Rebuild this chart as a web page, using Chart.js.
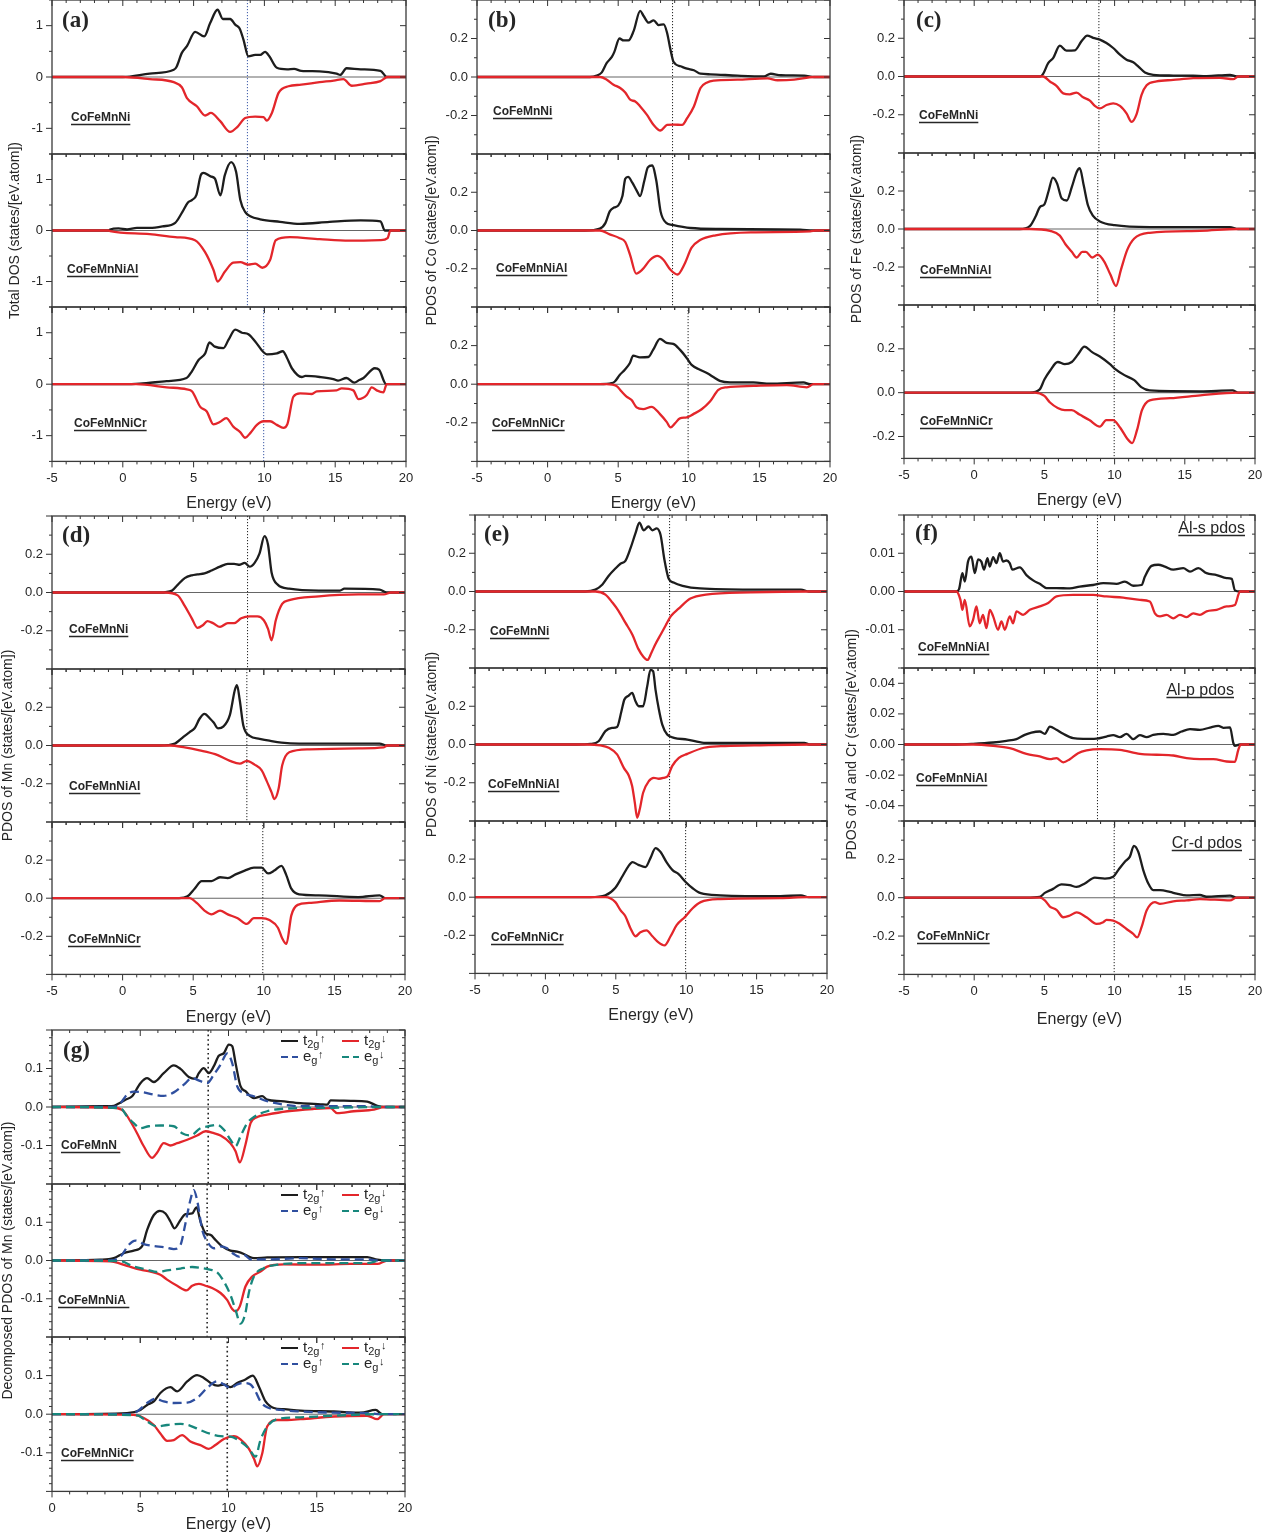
<!DOCTYPE html>
<html>
<head>
<meta charset="utf-8">
<script src="https://cdn.jsdelivr.net/npm/chart.js@4.4.0/dist/chart.umd.min.js"></script>
<style>
  html, body { margin: 0; padding: 0; background: #fff; }
  #fig { position: relative; width: 1262px; height: 1533px; overflow: hidden; background: #fff; }
  #fig canvas { position: absolute; }
</style>
</head>
<body>
<div id="fig"></div>
<script>
// ---------------- tick labels and text ----------------
const energyTicks = [-5, 0, 5, 10, 15, 20];
const energyTicksG = [0, 5, 10, 15, 20];
const tickTotal = [-1, 0, 1];
const tickPdos = [-0.2, 0, 0.2];
const tickAlS = [-0.01, 0, 0.01];
const tickAlP = [-0.04, -0.02, 0, 0.02, 0.04];
const tickDec = [-0.1, 0, 0.1];

const samples = ['CoFeMnNi', 'CoFeMnNiAl', 'CoFeMnNiCr'];
const samplesF = ['CoFeMnNiAl', 'CoFeMnNiAl', 'CoFeMnNiCr'];
const samplesG = ['CoFeMnN ', 'CoFeMnNiA ', 'CoFeMnNiCr'];
const pdosTags = ['Al-s pdos', 'Al-p pdos', 'Cr-d pdos'];
const yTitles = [
  'Total DOS (states/[eV.atom])',
  'PDOS of Co (states/[eV.atom])',
  'PDOS of Fe (states/[eV.atom])',
  'PDOS of Mn (states/[eV.atom])',
  'PDOS of Ni (states/[eV.atom])',
  'PDOS of Al and Cr (states/[eV.atom])',
  'Decomposed PDOS of Mn (states/[eV.atom])'
];
const xTitle = 'Energy (eV)';

// Fermi levels (eV) for the three alloys of each panel
const fermiA = [8.8, 8.8, 9.95];
const fermiB = [8.85, 8.85, 9.95];
const fermiC = [8.88, 8.8, 9.97];
const fermiD = [8.85, 8.8, 9.93];
const fermiE = [8.82, 8.82, 9.96];
const fermiF = [8.78, 8.78, 9.97];
const fermiG = [8.85, 8.79, 9.93];

// ---------------- (a) total DOS ----------------
const aNiUp = [[-5,0],[0,0],[1.9,0.065],[3.6,0.14],[3.8,0.2],[4.17,0.47],[4.53,0.6],[5.11,0.88],[5.75,0.79],[6.17,1.05],[6.69,1.31],[7.07,1.13],[7.58,1.13],[7.94,1.02],[8.24,0.95],[8.52,0.73],[8.87,0.4],[9.35,0.43],[9.7,0.43],[10.05,0.49],[10.36,0.4],[10.88,0.18],[11.6,0.15],[12.1,0.16],[12.6,0.12],[13.9,0.11],[15.1,0.065],[15.35,0.04],[15.8,0.17],[16.8,0.15],[18.2,0.12],[18.65,0],[20,0]];
const aNiDn = [[-5,0],[0,0],[1.9,-0.04],[3.6,-0.1],[4.17,-0.2],[4.53,-0.41],[5.23,-0.57],[5.82,-0.75],[6.22,-0.7],[6.88,-0.86],[7.58,-1.07],[8.1,-0.97],[8.64,-0.8],[9.35,-0.77],[9.94,-0.78],[10.17,-0.85],[10.53,-0.7],[11.0,-0.31],[11.7,-0.18],[12.6,-0.15],[13.9,-0.1],[14.9,-0.07],[15.58,-0.04],[16.17,-0.17],[17.2,-0.13],[18.2,-0.08],[18.7,0],[20,0]];
const aAlUp = [[-5,0],[-1,0],[-0.9,0.02],[-0.3,0.04],[0.3,0.02],[1,0.05],[1.9,0.05],[2.8,0.08],[3.7,0.15],[4.2,0.36],[4.6,0.55],[4.9,0.6],[5.2,0.7],[5.5,1.08],[5.7,1.13],[6.2,1.06],[6.5,1.02],[6.9,0.69],[7.2,1.08],[7.65,1.34],[8.0,1.15],[8.3,0.6],[8.65,0.36],[9.0,0.28],[9.7,0.22],[11.1,0.17],[12.5,0.13],[14.6,0.17],[16.8,0.2],[18.2,0.18],[18.5,0],[20,0]];
const aAlDn = [[-5,0],[-1,0],[-0.9,-0.01],[1.9,-0.07],[3.7,-0.13],[5.1,-0.19],[5.8,-0.42],[6.4,-0.77],[6.7,-1.0],[7.2,-0.81],[7.8,-0.63],[8.3,-0.62],[8.85,-0.67],[9.35,-0.65],[9.85,-0.73],[10.4,-0.58],[10.8,-0.19],[11.8,-0.13],[13.9,-0.17],[16.0,-0.2],[18.2,-0.19],[18.7,-0.15],[18.9,0],[20,0]];
const aCrUp = [[-5,0],[0,0],[1.2,0.01],[3.1,0.06],[4.5,0.12],[4.88,0.25],[5.35,0.47],[5.82,0.6],[6.12,0.81],[6.5,0.73],[7.11,0.7],[7.46,0.86],[7.94,1.06],[8.41,1.0],[8.87,0.97],[9.35,0.83],[9.94,0.62],[10.17,0.58],[10.88,0.6],[11.3,0.64],[11.58,0.52],[11.94,0.31],[12.64,0.14],[12.9,0.16],[13.9,0.14],[14.87,0.1],[15.2,0.07],[15.8,0.12],[16.35,0.03],[16.7,0.08],[17.0,0.12],[17.8,0.31],[18.1,0.28],[18.6,0],[20,0]];
const aCrDn = [[-5,0],[0.94,0],[3.1,-0.06],[4.52,-0.1],[4.9,-0.14],[5.47,-0.44],[5.93,-0.53],[6.4,-0.78],[6.88,-0.73],[7.3,-0.66],[7.82,-0.83],[8.29,-0.93],[8.64,-1.04],[9.0,-0.95],[9.47,-0.79],[9.94,-0.72],[10.4,-0.72],[10.88,-0.79],[11.34,-0.85],[11.63,-0.77],[12.05,-0.24],[12.52,-0.18],[13.35,-0.19],[13.7,-0.14],[15.1,-0.12],[15.46,-0.08],[16.28,-0.12],[16.64,-0.29],[17.23,-0.21],[17.58,-0.06],[17.93,-0.12],[18.4,-0.16],[18.64,0],[20,0]];

// ---------------- (b) Co PDOS ----------------
const bNiUp = [[-5,0],[3.0,0],[3.48,0.007],[3.84,0.024],[4.19,0.073],[4.55,0.104],[4.72,0.129],[5.09,0.2],[5.38,0.19],[5.73,0.19],[6.09,0.238],[6.56,0.343],[6.8,0.317],[7.16,0.282],[7.51,0.294],[7.87,0.27],[8.22,0.273],[8.46,0.23],[8.7,0.143],[8.93,0.077],[9.41,0.056],[9.88,0.043],[10.36,0.035],[10.83,0.017],[11.54,0.014],[13.44,0.007],[15.33,0.003],[15.8,0.017],[16.52,0.009],[18.18,0.007],[18.89,0],[20,0]];
const bNiDn = [[-5,0],[3.72,0],[4.19,-0.014],[4.67,-0.04],[5.14,-0.057],[5.5,-0.08],[5.85,-0.118],[6.21,-0.127],[6.56,-0.153],[7.04,-0.197],[7.51,-0.249],[7.99,-0.278],[8.46,-0.249],[8.93,-0.247],[9.53,-0.249],[9.88,-0.214],[10.36,-0.153],[10.83,-0.057],[11.3,-0.028],[11.78,-0.019],[13.44,-0.014],[15.57,-0.007],[16.28,-0.017],[17.46,-0.014],[18.89,0],[20,0]];
const bAlUp = [[-5,0],[2.65,0],[3.7,0.01],[4.1,0.04],[4.4,0.1],[4.7,0.12],[5.0,0.13],[5.3,0.18],[5.5,0.27],[5.7,0.28],[6.0,0.25],[6.3,0.21],[6.55,0.18],[6.85,0.26],[7.1,0.33],[7.4,0.34],[7.7,0.26],[8.0,0.1],[8.4,0.04],[8.8,0.03],[10.1,0.013],[12.2,0.008],[17.9,0.005],[18.8,0],[20,0]];
const bAlDn = [[-5,0],[3.7,0],[4.4,-0.02],[5.1,-0.04],[5.5,-0.06],[5.85,-0.13],[6.27,-0.225],[6.7,-0.205],[7.27,-0.153],[7.77,-0.133],[8.2,-0.153],[8.7,-0.205],[9.2,-0.23],[9.7,-0.175],[10.2,-0.09],[10.8,-0.05],[11.9,-0.025],[14.4,-0.01],[18.6,-0.005],[19,0],[20,0]];
const bCrUp = [[-5,0],[3.7,0],[4.53,0.005],[4.76,0.014],[5.12,0.049],[5.47,0.075],[5.83,0.11],[6.06,0.148],[6.54,0.139],[7.13,0.141],[7.48,0.179],[7.96,0.235],[8.43,0.214],[8.9,0.209],[9.37,0.179],[9.85,0.136],[10.2,0.1],[10.79,0.075],[11.38,0.054],[11.74,0.037],[12.2,0.017],[12.92,0.009],[14.57,0.009],[15.76,0.003],[18.12,0.009],[18.59,0],[20,0]];
const bCrDn = [[-5,0],[4.17,0],[4.88,-0.009],[5.24,-0.038],[5.59,-0.064],[5.95,-0.082],[6.3,-0.12],[6.77,-0.129],[7.36,-0.117],[7.96,-0.155],[8.43,-0.195],[8.71,-0.224],[9.02,-0.203],[9.37,-0.177],[9.85,-0.172],[10.32,-0.155],[10.91,-0.13],[11.5,-0.09],[12.09,-0.03],[12.68,-0.016],[14.57,-0.009],[16.94,-0.005],[18.36,-0.016],[18.83,0],[20,0]];

// ---------------- (c) Fe PDOS ----------------
const cNiUp = [[-5,0],[4.67,0],[4.91,0.014],[5.27,0.07],[5.62,0.096],[6.1,0.161],[6.57,0.135],[7.17,0.137],[7.64,0.184],[8.05,0.214],[8.47,0.202],[8.95,0.193],[9.42,0.175],[9.9,0.149],[10.38,0.114],[10.85,0.088],[11.33,0.074],[11.68,0.053],[12.16,0.021],[12.75,0.009],[14.18,0.005],[15.6,0.004],[16.55,0.002],[18.22,0.009],[18.69,0],[20,0]];
const cNiDn = [[-5,0],[4.91,0],[5.39,-0.026],[5.86,-0.049],[6.34,-0.088],[6.81,-0.093],[7.29,-0.084],[7.76,-0.109],[8.24,-0.126],[8.59,-0.154],[8.95,-0.167],[9.42,-0.149],[9.9,-0.14],[10.38,-0.154],[10.85,-0.193],[11.21,-0.237],[11.56,-0.198],[11.92,-0.096],[12.28,-0.046],[12.99,-0.026],[14.18,-0.018],[15.6,-0.009],[17.5,-0.007],[18.45,-0.014],[18.81,0],[20,0]];
const cAlUp = [[-5,0],[3.25,0],[3.96,0.015],[4.4,0.07],[4.67,0.115],[5.0,0.13],[5.3,0.2],[5.6,0.27],[5.9,0.24],[6.24,0.16],[6.6,0.15],[6.95,0.22],[7.3,0.3],[7.52,0.32],[7.8,0.23],[8.1,0.125],[8.45,0.07],[8.95,0.04],[10.0,0.02],[12.5,0.01],[16.1,0.01],[18.2,0.01],[18.8,0],[20,0]];
const cAlDn = [[-5,0],[3.96,0],[5.4,-0.01],[6.1,-0.035],[6.5,-0.08],[6.95,-0.12],[7.3,-0.15],[7.7,-0.12],[7.95,-0.12],[8.4,-0.15],[8.8,-0.135],[9.25,-0.17],[9.7,-0.24],[10.1,-0.3],[10.45,-0.215],[10.9,-0.11],[11.4,-0.05],[12.5,-0.02],[16.1,-0.01],[18.8,0],[20,0]];
const cCrUp = [[-5,0],[3.96,0],[4.67,0.015],[5.0,0.06],[5.4,0.1],[5.95,0.14],[6.45,0.13],[6.95,0.14],[7.4,0.175],[7.85,0.21],[8.4,0.185],[8.95,0.165],[9.67,0.13],[10.0,0.11],[10.7,0.08],[11.4,0.057],[11.9,0.025],[12.5,0.01],[16.1,0.006],[18.4,0.01],[18.8,0],[20,0]];
const cCrDn = [[-5,0],[4.3,0],[5.0,-0.015],[5.4,-0.045],[5.95,-0.07],[6.45,-0.08],[6.95,-0.08],[7.5,-0.1],[8.2,-0.125],[8.95,-0.155],[9.4,-0.125],[9.9,-0.125],[10.4,-0.16],[10.9,-0.21],[11.25,-0.23],[11.6,-0.17],[11.95,-0.08],[12.5,-0.035],[13.95,-0.025],[16.1,-0.012],[18.8,0],[20,0]];

// ---------------- (d) Mn PDOS ----------------
const dNiUp = [[-5,0],[2.65,0],[3.5,0.01],[3.9,0.04],[4.4,0.075],[4.9,0.09],[5.3,0.095],[5.8,0.1],[6.3,0.115],[6.9,0.135],[7.45,0.15],[7.9,0.15],[8.3,0.145],[8.65,0.155],[9.0,0.135],[9.35,0.155],[9.7,0.205],[10.05,0.295],[10.3,0.25],[10.55,0.105],[11.0,0.04],[11.8,0.02],[13.9,0.01],[15.4,0.01],[15.7,0.02],[18.2,0.015],[18.7,0],[20,0]];
const dNiDn = [[-5,0],[3.0,0],[3.9,-0.015],[4.4,-0.07],[4.9,-0.135],[5.3,-0.185],[5.7,-0.17],[6.0,-0.15],[6.4,-0.16],[6.9,-0.18],[7.45,-0.16],[7.9,-0.16],[8.4,-0.135],[9.0,-0.125],[9.55,-0.125],[10.0,-0.145],[10.3,-0.19],[10.55,-0.25],[10.85,-0.145],[11.3,-0.06],[11.8,-0.04],[13.9,-0.02],[16.7,-0.01],[18.5,-0.01],[19.0,0],[20,0]];
const dAlUp = [[-5,0],[2.65,0],[3.7,0.01],[4.0,0.026],[4.4,0.05],[4.75,0.07],[5.1,0.09],[5.45,0.14],[5.8,0.165],[6.2,0.14],[6.45,0.12],[6.75,0.09],[7.15,0.1],[7.6,0.16],[7.95,0.29],[8.1,0.315],[8.3,0.235],[8.55,0.105],[9.0,0.05],[9.7,0.035],[10.4,0.025],[11.25,0.015],[12.5,0.01],[18.2,0.01],[18.7,0],[20,0]];
const dAlDn = [[-5,0],[3.35,0],[4.4,-0.01],[5.45,-0.025],[6.55,-0.045],[7.6,-0.08],[8.3,-0.095],[8.8,-0.08],[9.35,-0.1],[9.85,-0.13],[10.2,-0.185],[10.55,-0.245],[10.75,-0.28],[11.05,-0.225],[11.3,-0.105],[11.8,-0.035],[13.25,-0.02],[16.7,-0.015],[18.5,-0.01],[18.75,0],[20,0]];
const dCrUp = [[-5,0],[4.0,0],[4.6,0.01],[5.1,0.05],[5.6,0.09],[6.3,0.09],[6.9,0.11],[7.45,0.105],[8.0,0.125],[8.65,0.145],[9.3,0.16],[9.85,0.16],[10.3,0.13],[10.75,0.145],[11.25,0.17],[11.6,0.12],[11.95,0.05],[12.5,0.02],[13.9,0.015],[16.7,0.006],[18.2,0.015],[18.6,0],[20,0]];
const dCrDn = [[-5,0],[4.75,0],[5.25,-0.025],[5.8,-0.065],[6.3,-0.085],[6.9,-0.065],[7.45,-0.085],[8.15,-0.105],[8.8,-0.135],[9.3,-0.105],[9.85,-0.105],[10.4,-0.115],[11.0,-0.155],[11.3,-0.21],[11.6,-0.24],[11.95,-0.09],[12.4,-0.035],[13.2,-0.025],[15.35,-0.012],[18.2,-0.015],[18.6,0],[20,0]];

// ---------------- (e) Ni PDOS ----------------
const eNiUp = [[-5,0],[2.83,0],[3.55,0.01],[4.05,0.037],[4.47,0.08],[4.97,0.12],[5.33,0.145],[5.68,0.16],[6.04,0.225],[6.4,0.305],[6.68,0.36],[6.97,0.32],[7.32,0.34],[7.6,0.32],[7.9,0.33],[8.18,0.295],[8.46,0.163],[8.75,0.068],[9.1,0.047],[9.74,0.03],[11.0,0.016],[14.6,0.01],[18.15,0.01],[18.7,0],[20,0]];
const eNiDn = [[-5,0],[3.55,0],[4.26,-0.016],[4.76,-0.058],[5.18,-0.1],[5.68,-0.163],[6.18,-0.226],[6.6,-0.3],[6.97,-0.342],[7.25,-0.358],[7.53,-0.32],[7.82,-0.274],[8.18,-0.226],[8.53,-0.179],[8.9,-0.13],[9.46,-0.09],[10.3,-0.037],[11.4,-0.016],[14.6,-0.005],[18.7,0],[20,0]];
const eAlUp = [[-5,0],[2.24,0],[3.19,0.003],[3.78,0.017],[4.26,0.07],[4.73,0.087],[5.09,0.092],[5.4,0.174],[5.61,0.235],[5.92,0.256],[6.16,0.27],[6.4,0.226],[6.63,0.2],[6.94,0.2],[7.23,0.304],[7.46,0.39],[7.65,0.383],[7.82,0.287],[8.06,0.183],[8.3,0.104],[8.65,0.052],[9.13,0.035],[10.08,0.026],[11.26,0.009],[18.39,0.009],[18.74,0],[20,0]];
const eAlDn = [[-5,0],[2.95,0],[3.9,-0.005],[4.5,-0.017],[5.09,-0.052],[5.57,-0.122],[5.92,-0.162],[6.16,-0.217],[6.35,-0.304],[6.52,-0.383],[6.7,-0.339],[6.94,-0.252],[7.35,-0.191],[7.7,-0.174],[8.06,-0.179],[8.41,-0.174],[8.7,-0.165],[9.0,-0.113],[9.48,-0.07],[10.08,-0.049],[11.26,-0.017],[12.45,-0.009],[14.82,-0.005],[18.86,0],[20,0]];
const eCrUp = [[-5,0],[3.2,0],[4.26,0.01],[4.97,0.05],[5.47,0.11],[5.9,0.163],[6.18,0.184],[6.6,0.17],[7.1,0.158],[7.46,0.205],[7.82,0.258],[8.18,0.237],[8.6,0.184],[9.03,0.142],[9.46,0.121],[9.96,0.08],[10.46,0.047],[11.03,0.021],[12.45,0.01],[16.7,0.005],[18.15,0.01],[18.7,0],[20,0]];
const eCrDn = [[-5,0],[4.26,0],[4.97,-0.026],[5.33,-0.068],[5.68,-0.1],[6.04,-0.163],[6.4,-0.205],[6.75,-0.184],[7.18,-0.174],[7.6,-0.205],[8.03,-0.237],[8.46,-0.253],[8.89,-0.205],[9.32,-0.147],[9.89,-0.105],[10.46,-0.058],[11.03,-0.026],[12.45,-0.01],[16.7,-0.005],[18.7,0],[20,0]];

// ---------------- (f) Al s, Al p and Cr d PDOS ----------------
const fAlSUp = [[-5,0],[-1.27,0],[-1.08,0.0006],[-0.84,0.0048],[-0.67,0.0026],[-0.44,0.0078],[-0.2,0.0091],[0.04,0.0048],[0.28,0.0084],[0.51,0.0078],[0.7,0.0057],[0.94,0.0087],[1.11,0.0065],[1.35,0.009],[1.58,0.0074],[1.82,0.01],[2.06,0.0078],[2.3,0.0081],[2.53,0.0074],[2.72,0.0057],[3.25,0.0063],[3.72,0.0043],[4.2,0.0029],[4.67,0.002],[5.15,0.0009],[5.86,0.0009],[6.81,0.0008],[7.52,0.0013],[8.47,0.0017],[9.19,0.0022],[10.14,0.002],[10.73,0.0026],[11.33,0.0015],[11.92,0.0017],[12.16,0.0039],[12.63,0.0067],[13.11,0.007],[13.58,0.0065],[14.18,0.0057],[14.89,0.0061],[15.37,0.0052],[15.96,0.0061],[16.55,0.0048],[17.27,0.0043],[17.98,0.0035],[18.34,0.0033],[18.57,0.0003],[18.93,0],[20,0]];
const fAlSDn = [[-5,0],[-1.27,0],[-0.98,-0.0022],[-0.84,-0.0048],[-0.67,-0.0022],[-0.32,-0.0091],[-0.08,-0.0074],[0.16,-0.0039],[0.39,-0.0083],[0.63,-0.0061],[0.87,-0.0096],[1.11,-0.0048],[1.35,-0.0065],[1.7,-0.01],[1.94,-0.0078],[2.18,-0.01],[2.53,-0.0065],[2.77,-0.0083],[3.01,-0.0052],[3.48,-0.0061],[3.96,-0.0048],[4.67,-0.0039],[5.27,-0.003],[5.86,-0.0013],[7.05,-0.0009],[8.47,-0.0009],[9.42,-0.0013],[10.61,-0.0016],[11.8,-0.0022],[12.51,-0.0026],[12.87,-0.0057],[13.23,-0.0065],[13.7,-0.0061],[14.18,-0.007],[14.65,-0.0061],[15.13,-0.0067],[15.6,-0.0057],[16.08,-0.0061],[16.55,-0.0052],[17.27,-0.0048],[17.98,-0.0039],[18.57,-0.0035],[18.93,0],[20,0]];
const fAlPUp = [[-5,0],[-1.27,0],[-0.08,0.0004],[1.35,0.0013],[2.3,0.0024],[3.01,0.0035],[3.6,0.0063],[4.08,0.0078],[4.67,0.0085],[5.03,0.007],[5.39,0.0117],[5.86,0.0096],[6.34,0.007],[7.05,0.0041],[7.76,0.0037],[8.71,0.0039],[9.42,0.0052],[9.9,0.0061],[10.38,0.0048],[10.85,0.007],[11.33,0.0035],[11.8,0.0061],[12.28,0.0048],[12.75,0.0063],[13.47,0.007],[14.18,0.0063],[14.77,0.0085],[15.37,0.01],[16.08,0.0096],[16.79,0.0111],[17.39,0.0122],[17.74,0.0109],[18.22,0.0111],[18.46,0.0009],[18.57,-0.0009],[18.93,0],[20,0]];
const fAlPDn = [[-5,0],[-0.08,0],[1.35,-0.0009],[2.53,-0.0024],[3.72,-0.0061],[4.67,-0.0078],[5.39,-0.0096],[5.86,-0.0089],[6.34,-0.0117],[6.81,-0.0096],[7.4,-0.0057],[8.0,-0.0039],[8.95,-0.003],[10.38,-0.0035],[11.8,-0.0061],[12.99,-0.0067],[14.18,-0.0072],[15.13,-0.0089],[16.08,-0.0096],[17.03,-0.0096],[17.98,-0.0111],[18.57,-0.0113],[18.81,-0.0035],[19.0,0],[20,0]];
const fCrDUp = [[-5,0],[3.72,0],[4.67,0.004],[5.03,0.025],[5.62,0.046],[6.22,0.07],[6.81,0.065],[7.29,0.056],[7.88,0.074],[8.59,0.105],[9.31,0.1],[9.9,0.109],[10.26,0.144],[10.73,0.188],[11.09,0.214],[11.37,0.27],[11.68,0.24],[12.04,0.144],[12.4,0.074],[12.75,0.039],[13.23,0.039],[13.94,0.03],[14.42,0.021],[15.13,0.012],[16.08,0.014],[16.55,0.005],[18.22,0.011],[18.69,0],[20,0]];
const fCrDDn = [[-5,0],[4.67,0],[5.03,-0.014],[5.39,-0.046],[5.86,-0.063],[6.34,-0.102],[6.81,-0.093],[7.29,-0.077],[8.0,-0.102],[8.71,-0.137],[9.19,-0.128],[9.42,-0.116],[9.9,-0.119],[10.38,-0.137],[10.85,-0.163],[11.33,-0.189],[11.61,-0.207],[11.92,-0.154],[12.28,-0.067],[12.87,-0.023],[13.23,-0.032],[14.18,-0.019],[15.13,-0.014],[16.08,-0.007],[18.22,-0.014],[18.69,0],[20,0]];

// ---------------- (g) Mn t2g / eg decomposition ----------------
const gNiT2gUp = [[0,0],[2.74,0.002],[3.5,0.003],[3.78,0.009],[4.16,0.019],[4.54,0.028],[5.01,0.062],[5.39,0.075],[5.77,0.065],[6.33,0.088],[6.9,0.108],[7.28,0.099],[7.75,0.078],[8.13,0.073],[8.32,0.088],[8.6,0.101],[8.88,0.088],[9.17,0.106],[9.45,0.133],[9.74,0.14],[10.02,0.162],[10.21,0.158],[10.4,0.114],[10.68,0.054],[10.96,0.041],[11.44,0.023],[11.91,0.028],[12.19,0.019],[12.95,0.015],[14.08,0.01],[15.22,0.007],[15.6,0.006],[15.78,0.017],[16.92,0.016],[17.86,0.014],[18.43,0.003],[18.81,0],[20,0]];
const gNiEgUp = [[0,0],[3.5,0],[3.88,0.01],[4.25,0.032],[4.63,0.04],[5.2,0.038],[5.77,0.032],[6.33,0.029],[6.9,0.038],[7.47,0.058],[7.94,0.075],[8.41,0.067],[8.79,0.062],[9.17,0.084],[9.55,0.11],[9.92,0.139],[10.21,0.114],[10.49,0.054],[10.87,0.036],[11.44,0.028],[12.19,0.015],[13.14,0.006],[14.08,0.002],[17.86,0.002],[18.62,0],[20,0]];
const gNiT2gDn = [[0,0],[3.5,-0.002],[4.06,-0.011],[4.44,-0.037],[4.82,-0.068],[5.2,-0.102],[5.67,-0.132],[5.95,-0.119],[6.33,-0.094],[6.71,-0.1],[7.09,-0.094],[7.66,-0.085],[8.22,-0.074],[8.7,-0.063],[9.17,-0.068],[9.55,-0.074],[10.11,-0.094],[10.4,-0.115],[10.64,-0.144],[10.96,-0.098],[11.25,-0.042],[11.63,-0.026],[12.19,-0.02],[13.33,-0.011],[14.84,-0.005],[15.78,-0.003],[16.16,-0.016],[17.1,-0.011],[18.24,-0.007],[18.81,0],[20,0]];
const gNiEgDn = [[0,0],[3.88,-0.003],[4.25,-0.024],[4.63,-0.042],[5.01,-0.055],[5.48,-0.05],[6.14,-0.048],[6.9,-0.05],[7.37,-0.068],[7.84,-0.074],[8.41,-0.055],[8.88,-0.05],[9.36,-0.046],[9.74,-0.059],[10.11,-0.085],[10.4,-0.102],[10.68,-0.076],[11.06,-0.042],[11.44,-0.026],[12.19,-0.011],[13.33,-0.004],[15.97,-0.002],[18.81,0],[20,0]];
const gAlT2gUp = [[0,0],[2.74,0.002],[3.5,0.006],[4.06,0.019],[4.63,0.026],[5.1,0.037],[5.39,0.08],[5.77,0.119],[6.11,0.13],[6.43,0.123],[6.71,0.102],[6.94,0.084],[7.28,0.106],[7.56,0.121],[7.94,0.123],[8.19,0.139],[8.41,0.102],[8.7,0.071],[8.98,0.067],[9.26,0.054],[9.64,0.037],[10.11,0.026],[10.49,0.023],[10.87,0.017],[11.15,0.01],[11.44,0.006],[12.19,0.008],[14.08,0.009],[17.86,0.009],[18.43,0.002],[18.81,0],[20,0]];
const gAlEgUp = [[0,0],[3.3,0],[3.88,0.01],[4.35,0.041],[4.73,0.052],[5.2,0.043],[5.77,0.038],[6.33,0.035],[6.9,0.03],[7.28,0.041],[7.56,0.097],[7.84,0.158],[8.03,0.184],[8.22,0.158],[8.51,0.08],[8.79,0.05],[9.17,0.032],[9.55,0.037],[9.92,0.032],[10.3,0.017],[10.59,0.01],[10.87,0.015],[11.25,0.003],[12.19,0.003],[14.08,0.006],[15.97,0.003],[17.86,0.003],[18.43,0],[20,0]];
const gAlT2gDn = [[0,0],[3.3,-0.002],[4.25,-0.014],[5.01,-0.024],[5.58,-0.029],[6.14,-0.037],[6.52,-0.05],[7.09,-0.066],[7.62,-0.078],[7.94,-0.066],[8.32,-0.061],[8.7,-0.066],[9.07,-0.072],[9.55,-0.085],[9.92,-0.103],[10.21,-0.127],[10.4,-0.133],[10.64,-0.12],[10.96,-0.068],[11.34,-0.042],[11.81,-0.029],[12.19,-0.016],[13.14,-0.01],[15.03,-0.011],[16.92,-0.009],[18.43,-0.009],[19.0,0],[20,0]];
const gAlEgDn = [[0,0],[3.88,-0.002],[4.63,-0.016],[5.39,-0.024],[5.95,-0.03],[6.52,-0.026],[7.28,-0.021],[7.94,-0.017],[8.41,-0.019],[8.88,-0.023],[9.36,-0.031],[9.74,-0.055],[10.11,-0.09],[10.4,-0.129],[10.68,-0.165],[10.96,-0.137],[11.15,-0.085],[11.44,-0.042],[12.0,-0.02],[12.76,-0.011],[14.08,-0.007],[17.86,-0.007],[18.62,0],[20,0]];
const gCrT2gUp = [[0,0],[4.25,0.003],[5.01,0.011],[5.39,0.024],[5.77,0.033],[6.14,0.055],[6.71,0.07],[7.09,0.059],[7.66,0.085],[8.22,0.101],[8.6,0.094],[8.98,0.081],[9.36,0.074],[9.74,0.077],[10.11,0.07],[10.49,0.081],[10.96,0.09],[11.38,0.1],[11.72,0.072],[12.1,0.033],[12.57,0.016],[13.14,0.013],[14.08,0.009],[15.97,0.007],[17.49,0.004],[18.34,0.011],[18.71,0],[20,0]];
const gCrEgUp = [[0,0],[4.44,0],[4.82,0.007],[5.39,0.029],[5.86,0.04],[6.33,0.033],[6.9,0.029],[7.66,0.03],[8.22,0.042],[8.79,0.068],[9.36,0.085],[9.74,0.077],[10.11,0.068],[10.49,0.077],[10.87,0.081],[11.25,0.077],[11.53,0.059],[11.81,0.033],[12.19,0.018],[12.95,0.011],[14.08,0.007],[15.97,0.004],[17.86,0.003],[18.62,0],[20,0]];
const gCrT2gDn = [[0,0],[4.63,-0.002],[5.2,-0.01],[5.77,-0.028],[6.14,-0.05],[6.52,-0.069],[6.9,-0.067],[7.37,-0.054],[7.84,-0.071],[8.41,-0.08],[8.88,-0.09],[9.26,-0.08],[9.74,-0.064],[10.3,-0.057],[10.68,-0.065],[11.15,-0.089],[11.44,-0.115],[11.63,-0.135],[11.91,-0.102],[12.19,-0.032],[12.76,-0.015],[13.33,-0.015],[14.08,-0.013],[15.97,-0.006],[17.86,-0.004],[18.43,-0.013],[18.81,0],[20,0]];
const gCrEgDn = [[0,0],[4.82,-0.003],[5.39,-0.019],[5.95,-0.032],[6.52,-0.028],[7.28,-0.025],[7.84,-0.03],[8.41,-0.041],[8.98,-0.051],[9.55,-0.057],[10.11,-0.058],[10.68,-0.071],[11.15,-0.089],[11.53,-0.11],[11.81,-0.067],[12.19,-0.032],[12.76,-0.013],[14.08,-0.008],[15.97,-0.004],[18.62,0],[20,0]];

// ---------------- styling ----------------
Chart.defaults.font.family = "'Liberation Sans', Arial, sans-serif";
const INK = '#262626';
const COL = { up: '#1d1d1d', dn: '#e3262b', egUp: '#2f4f9f', egDn: '#17877c' };
const SANS = "'Liberation Sans', Arial, sans-serif";
const SERIF = "'Liberation Serif', 'Times New Roman', serif";

// y-axis set-ups
const yTotal = { min: -1.5, max: 1.5, labels: tickTotal, major: 1, minor: 0.5, dec: 0 };
const yPdos = { min: -0.4, max: 0.4, labels: tickPdos, major: 0.2, minor: 0.1, dec: 1 };
const yPdosLow = { min: -0.3, max: 0.4, labels: tickPdos, major: 0.2, minor: 0.1, dec: 1 };
const yAlS = { min: -0.02, max: 0.02, labels: tickAlS, major: 0.01, minor: 0.005, dec: 2 };
const yAlP = { min: -0.05, max: 0.05, labels: tickAlP, major: 0.02, minor: 0.01, dec: 2 };
const yDec = { min: -0.2, max: 0.2, labels: tickDec, major: 0.1, minor: 0.02, dec: 1 };

function spin(up, dn) {
  return [
    { label: 'spin up', data: up, color: COL.up, order: 2 },
    { label: 'spin down', data: dn, color: COL.dn, order: 1 }
  ];
}
function orbitals(t2gUp, egUp, t2gDn, egDn) {
  return [
    { label: 't2g up', data: t2gUp, color: COL.up, order: 4 },
    { label: 't2g down', data: t2gDn, color: COL.dn, order: 3 },
    { label: 'eg up', data: egUp, color: COL.egUp, order: 2, dash: [9, 5] },
    { label: 'eg down', data: egDn, color: COL.egDn, order: 1, dash: [9, 5] }
  ];
}

// legend of panel (g): base letter, subscript, spin arrow
const legendItems = [
  { base: 't', sub: '2g', arrow: '\u2191', color: COL.up, dash: [], col: 0, row: 0 },
  { base: 't', sub: '2g', arrow: '\u2193', color: COL.dn, dash: [], col: 1, row: 0 },
  { base: 'e', sub: 'g', arrow: '\u2191', color: COL.egUp, dash: [7, 4], col: 0, row: 1 },
  { base: 'e', sub: 'g', arrow: '\u2193', color: COL.egDn, dash: [7, 4], col: 1, row: 1 }
];

const dotted = { color: '#222', dash: [1.2, 1.8], width: 1 };
const dottedBlue = { color: '#3b58a6', dash: [1.2, 1.8], width: 1 };
const dottedG = { color: '#222', dash: [1.6, 3], width: 1.6 };

const panels = [
  { letter: '(a)', left: 52, right: 406, edges: [0, 154, 307, 461], xMin: -5, xMax: 20, xTicks: energyTicks,
    yTitle: yTitles[0], yTitleX: 15, xTitleGap: 42, fermiStyle: dottedBlue, letterPos: [10, 21],
    subplots: [
      { name: samples[0], series: spin(aNiUp, aNiDn), fermi: fermiA[0], y: yTotal, namePos: [19, 118] },
      { name: samples[1], series: spin(aAlUp, aAlDn), fermi: fermiA[1], y: yTotal, namePos: [15, 116] },
      { name: samples[2], series: spin(aCrUp, aCrDn), fermi: fermiA[2], y: yTotal, namePos: [22, 117] }
    ] },
  { letter: '(b)', left: 477, right: 830, edges: [0, 154, 307, 461], xMin: -5, xMax: 20, xTicks: energyTicks,
    yTitle: yTitles[1], yTitleX: 432, xTitleGap: 42, fermiStyle: dotted, letterPos: [11, 21],
    subplots: [
      { name: samples[0], series: spin(bNiUp, bNiDn), fermi: fermiB[0], y: yPdos, namePos: [16, 112] },
      { name: samples[1], series: spin(bAlUp, bAlDn), fermi: fermiB[1], y: yPdos, namePos: [19, 115] },
      { name: samples[2], series: spin(bCrUp, bCrDn), fermi: fermiB[2], y: yPdos, namePos: [15, 117] }
    ] },
  { letter: '(c)', left: 904, right: 1255, edges: [0, 153, 305, 458], xMin: -5, xMax: 20, xTicks: energyTicks,
    yTitle: yTitles[2], yTitleX: 857, xTitleGap: 42, fermiStyle: dotted, letterPos: [12, 21],
    subplots: [
      { name: samples[0], series: spin(cNiUp, cNiDn), fermi: fermiC[0], y: yPdos, namePos: [15, 116] },
      { name: samples[1], series: spin(cAlUp, cAlDn), fermi: fermiC[1], y: yPdos, namePos: [16, 118] },
      { name: samples[2], series: spin(cCrUp, cCrDn), fermi: fermiC[2], y: yPdosLow, namePos: [16, 117] }
    ] },
  { letter: '(d)', left: 52, right: 405, edges: [516, 669, 822, 974], xMin: -5, xMax: 20, xTicks: energyTicks,
    yTitle: yTitles[3], yTitleX: 8, xTitleGap: 43, fermiStyle: dotted, letterPos: [10, 20],
    subplots: [
      { name: samples[0], series: spin(dNiUp, dNiDn), fermi: fermiD[0], y: yPdos, namePos: [17, 114] },
      { name: samples[1], series: spin(dAlUp, dAlDn), fermi: fermiD[1], y: yPdos, namePos: [17, 118] },
      { name: samples[2], series: spin(dCrUp, dCrDn), fermi: fermiD[2], y: yPdos, namePos: [16, 118] }
    ] },
  { letter: '(e)', left: 475, right: 827, edges: [515, 668, 821, 973], xMin: -5, xMax: 20, xTicks: energyTicks,
    yTitle: yTitles[4], yTitleX: 432, xTitleGap: 42, fermiStyle: dotted, letterPos: [9, 20],
    subplots: [
      { name: samples[0], series: spin(eNiUp, eNiDn), fermi: fermiE[0], y: yPdos, namePos: [15, 117] },
      { name: samples[1], series: spin(eAlUp, eAlDn), fermi: fermiE[1], y: yPdos, namePos: [13, 117] },
      { name: samples[2], series: spin(eCrUp, eCrDn), fermi: fermiE[2], y: yPdos, namePos: [16, 117] }
    ] },
  { letter: '(f)', left: 904, right: 1255, edges: [515, 668, 821, 974], xMin: -5, xMax: 20, xTicks: energyTicks,
    yTitle: yTitles[5], yTitleX: 852, xTitleGap: 45, fermiStyle: dotted, letterPos: [11, 19],
    subplots: [
      { name: samplesF[0], series: spin(fAlSUp, fAlSDn), fermi: fermiF[0], y: yAlS, namePos: [14, 133], tag: pdosTags[0], tagPos: [-10, 14] },
      { name: samplesF[1], series: spin(fAlPUp, fAlPDn), fermi: fermiF[1], y: yAlP, namePos: [12, 111], tag: pdosTags[1], tagPos: [-21, 23] },
      { name: samplesF[2], series: spin(fCrDUp, fCrDDn), fermi: fermiF[2], y: yPdos, namePos: [13, 116], tag: pdosTags[2], tagPos: [-13, 23] }
    ] },
  { letter: '(g)', left: 52, right: 405, edges: [1030, 1184, 1337, 1491], xMin: 0, xMax: 20, xTicks: energyTicksG,
    yTitle: yTitles[6], yTitleX: 8, xTitleGap: 33, fermiStyle: dottedG, letterPos: [11, 21], legend: true,
    subplots: [
      { name: samplesG[0], series: orbitals(gNiT2gUp, gNiEgUp, gNiT2gDn, gNiEgDn), fermi: fermiG[0], y: yDec, namePos: [9, 116] },
      { name: samplesG[1], series: orbitals(gAlT2gUp, gAlEgUp, gAlT2gDn, gAlEgDn), fermi: fermiG[1], y: yDec, namePos: [6, 117] },
      { name: samplesG[2], series: orbitals(gCrT2gUp, gCrEgUp, gCrT2gDn, gCrEgDn), fermi: fermiG[2], y: yDec, namePos: [9, 117] }
    ] }
];

// ---------------- drawing helpers ----------------
const LEFT_M = 62, RIGHT_M = 16, TOP_M = 12, MID_EXTRA = 150;
const TICK_FONT = 13, XTITLE_FONT = 16, YTITLE_FONT = 14;

function seg(ctx, x1, y1, x2, y2) {
  ctx.beginPath(); ctx.moveTo(x1, y1); ctx.lineTo(x2, y2); ctx.stroke();
}
function isMultiple(v, step) {
  const r = v / step;
  return Math.abs(r - Math.round(r)) < 1e-6;
}
function underlinedText(ctx, text, x, y, font, align) {
  ctx.font = font;
  ctx.textAlign = align; ctx.textBaseline = 'middle';
  ctx.fillText(text, x, y);
  const w = ctx.measureText(text).width;
  const x0 = align === 'right' ? x - w : x;
  ctx.lineWidth = 1.3;
  seg(ctx, x0, y + 6.5, x0 + w, y + 6.5);
}
function orbitalLabel(ctx, item, x, y) {
  ctx.textAlign = 'left'; ctx.textBaseline = 'middle'; ctx.fillStyle = INK;
  ctx.font = '15px ' + SANS;
  ctx.fillText(item.base, x, y);
  let w = ctx.measureText(item.base).width;
  ctx.font = '11px ' + SANS;
  ctx.fillText(item.sub, x + w, y + 4);
  w += ctx.measureText(item.sub).width;
  ctx.font = '11px ' + SANS;
  ctx.fillText(item.arrow, x + w + 0.5, y - 2);
}

function decor(panel, sp, idx, canvasLeft) {
  return {
    id: 'decor',
    beforeDatasetsDraw(chart) {
      const { ctx, chartArea: ca, scales: { x, y } } = chart;
      ctx.save();
      // zero line
      const y0 = y.getPixelForValue(0);
      ctx.strokeStyle = '#666'; ctx.lineWidth = 1.1;
      seg(ctx, ca.left, y0, ca.right, y0);
      // Fermi level
      const fs = panel.fermiStyle;
      const xf = x.getPixelForValue(sp.fermi);
      ctx.strokeStyle = fs.color; ctx.lineWidth = fs.width; ctx.setLineDash(fs.dash);
      seg(ctx, xf, ca.top, xf, ca.bottom);
      ctx.restore();
    },
    afterDraw(chart) {
      const { ctx, chartArea: ca, scales: { x, y } } = chart;
      ctx.save();
      ctx.strokeStyle = '#333'; ctx.lineWidth = 1;
      // energy ticks: bottom edge outward, top edge inward
      const nx = Math.round(x.max - x.min);
      for (let i = 0; i <= nx; i++) {
        const v = x.min + i;
        const px = x.getPixelForValue(v);
        const len = isMultiple(v, 5) ? 6 : 3;
        seg(ctx, px, ca.bottom, px, ca.bottom + len);
        seg(ctx, px, ca.top, px, ca.top + len);
      }
      // value ticks: left outward, right inward
      const ys = sp.y;
      const ny = Math.round((ys.max - ys.min) / ys.minor);
      for (let i = 0; i <= ny; i++) {
        const v = ys.min + i * ys.minor;
        const py = y.getPixelForValue(v);
        const len = isMultiple(v, ys.major) ? 6 : 3;
        seg(ctx, ca.left - len, py, ca.left, py);
        seg(ctx, ca.right - len, py, ca.right, py);
      }
      // frame
      ctx.strokeStyle = '#3a3a3a'; ctx.lineWidth = 1.3;
      ctx.strokeRect(ca.left, ca.top, ca.right - ca.left, ca.bottom - ca.top);

      // alloy name
      ctx.fillStyle = INK; ctx.strokeStyle = INK;
      underlinedText(ctx, sp.name, ca.left + sp.namePos[0], ca.top + sp.namePos[1], 'bold 12px ' + SANS, 'left');
      // orbital tag (panel f)
      if (sp.tag) {
        underlinedText(ctx, sp.tag, ca.right + sp.tagPos[0], ca.top + sp.tagPos[1], '16px ' + SANS, 'right');
      }
      // panel letter
      if (idx === 0) {
        ctx.font = 'bold 23px ' + SERIF;
        ctx.textAlign = 'left'; ctx.textBaseline = 'middle';
        ctx.fillText(panel.letter, ca.left + panel.letterPos[0], ca.top + panel.letterPos[1]);
      }
      // shared y title, drawn once on the middle plot
      if (idx === 1) {
        ctx.save();
        ctx.translate(panel.yTitleX - canvasLeft, (ca.top + ca.bottom) / 2);
        ctx.rotate(-Math.PI / 2);
        ctx.font = YTITLE_FONT + 'px ' + SANS;
        ctx.textAlign = 'center'; ctx.textBaseline = 'middle'; ctx.fillStyle = INK;
        ctx.fillText(panel.yTitle, 0, 0);
        ctx.restore();
      }
      // orbital legend (panel g)
      if (panel.legend) {
        const colX = [229, 290], rowY = [11, 27];
        legendItems.forEach(it => {
          const lx = ca.left + colX[it.col], ly = ca.top + rowY[it.row];
          ctx.strokeStyle = it.color; ctx.lineWidth = 2; ctx.setLineDash(it.dash);
          seg(ctx, lx, ly, lx + 17, ly);
          ctx.setLineDash([]);
          orbitalLabel(ctx, it, lx + 22, ly);
        });
      }
      ctx.restore();
    }
  };
}

// ---------------- build the 21 sub-plots ----------------
const fig = document.getElementById('fig');

function zeroPadding(s) {
  s.paddingLeft = 0; s.paddingRight = 0; s.paddingTop = 0; s.paddingBottom = 0;
}

function build(panel, sp, idx) {
  const last = idx === panel.subplots.length - 1;
  const mid = idx === 1;
  const top = panel.edges[idx], bottom = panel.edges[idx + 1];
  const plotW = panel.right - panel.left, plotH = bottom - top;
  const xAxisH = last ? panel.xTitleGap + XTITLE_FONT * 0.6 : 0;
  const padTop = TOP_M + (mid ? MID_EXTRA : 0);
  const padBottom = last ? 4 : TOP_M + (mid ? MID_EXTRA : 0);
  const W = LEFT_M + plotW + RIGHT_M;
  const H = Math.ceil(padTop + plotH + xAxisH + padBottom);
  const canvasLeft = panel.left - LEFT_M;
  const cv = document.createElement('canvas');
  cv.width = W; cv.height = H;
  cv.style.left = canvasLeft + 'px';
  cv.style.top = (top - padTop) + 'px';
  cv.style.width = W + 'px'; cv.style.height = H + 'px';
  fig.appendChild(cv);

  new Chart(cv, {
    type: 'line',
    data: {
      datasets: sp.series.map(s => ({
        label: s.label,
        data: s.data.map(([e, v]) => ({ x: e, y: v })),
        borderColor: s.color,
        borderWidth: 2.3,
        borderDash: s.dash || [],
        pointRadius: 0,
        fill: false,
        cubicInterpolationMode: 'monotone',
        order: s.order
      }))
    },
    options: {
      responsive: false,
      animation: false,
      events: [],
      layout: { padding: { left: 0, right: RIGHT_M, top: padTop, bottom: padBottom } },
      plugins: { legend: { display: false }, tooltip: { enabled: false } },
      scales: {
        x: {
          type: 'linear', min: panel.xMin, max: panel.xMax, display: last,
          grid: { display: false, drawTicks: false }, border: { display: false },
          ticks: { padding: 9, color: INK, font: { size: TICK_FONT }, maxRotation: 0, autoSkip: false },
          afterBuildTicks: s => { s.ticks = panel.xTicks.map(v => ({ value: v })); },
          afterFit: s => { s.height = xAxisH; zeroPadding(s); },
          title: { display: last, text: xTitle, color: INK, font: { size: XTITLE_FONT }, padding: 0 }
        },
        y: {
          type: 'linear', min: sp.y.min, max: sp.y.max,
          grid: { display: false, drawTicks: false }, border: { display: false },
          ticks: { padding: 9, color: INK, font: { size: TICK_FONT }, autoSkip: false,
                   callback: v => Number(v).toFixed(sp.y.dec) },
          afterBuildTicks: s => { s.ticks = sp.y.labels.map(v => ({ value: v })); },
          afterFit: s => { s.width = LEFT_M; zeroPadding(s); }
        }
      }
    },
    plugins: [decor(panel, sp, idx, canvasLeft)]
  });
}

panels.forEach(panel => panel.subplots.forEach((sp, idx) => build(panel, sp, idx)));
</script>
</body>
</html>
